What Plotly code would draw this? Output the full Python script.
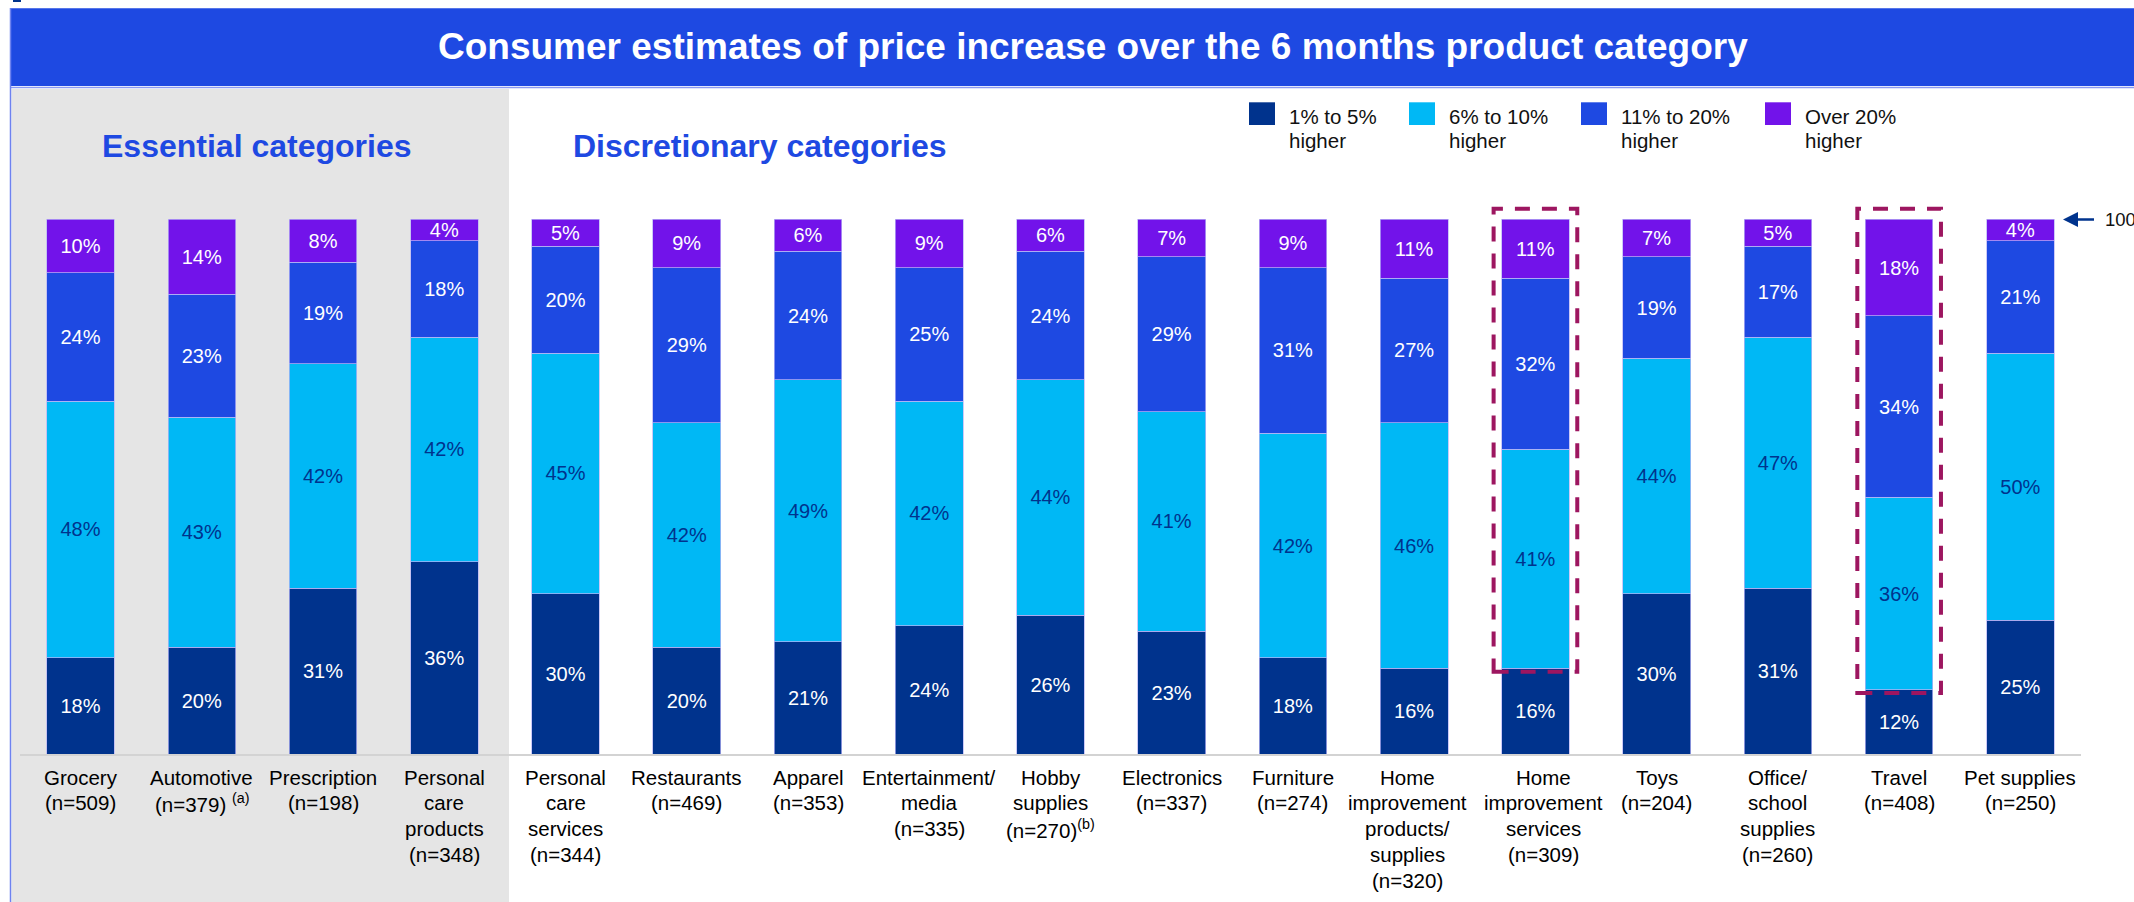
import plotly.graph_objects as go

# ---------------- data ----------------
categories = [
    "Grocery<br>(n=509)",
    "Automotive<br>(n=379) <sup>(a)</sup>",
    "Prescription<br>(n=198)",
    "Personal<br>care<br>products<br>(n=348)",
    "Personal<br>care<br>services<br>(n=344)",
    "Restaurants<br>(n=469)",
    "Apparel<br>(n=353)",
    "Entertainment/<br>media<br>(n=335)",
    "Hobby<br>supplies<br>(n=270)<sup>(b)</sup>",
    "Electronics<br>(n=337)",
    "Furniture<br>(n=274)",
    "Home<br>improvement<br>products/<br>supplies<br>(n=320)",
    "Home<br>improvement<br>services<br>(n=309)",
    "Toys<br>(n=204)",
    "Office/<br>school<br>supplies<br>(n=260)",
    "Travel<br>(n=408)",
    "Pet supplies<br>(n=250)",
]
pct_1_5 = [18, 20, 31, 36, 30, 20, 21, 24, 26, 23, 18, 16, 16, 30, 31, 12, 25]
pct_6_10 = [48, 43, 42, 42, 45, 42, 49, 42, 44, 41, 42, 46, 41, 44, 47, 36, 50]
pct_11_20 = [24, 23, 19, 18, 20, 29, 24, 25, 24, 29, 31, 27, 32, 19, 17, 34, 21]
pct_over_20 = [10, 14, 8, 4, 5, 9, 6, 9, 6, 7, 9, 11, 11, 7, 5, 18, 4]
series_names = ["1% to 5%", "6% to 10%", "11% to 20%", "Over 20%"]
highlighted = [12, 15]  # Home improvement services, Travel

title_text = "Consumer estimates of price increase over the 6 months product category"

# ---------------- style ----------------
FONT = "Arial, Liberation Sans, sans-serif"
C_NAVY = "#00338D"
C_CYAN = "#00B8F5"
C_BLUE = "#1E49E2"
C_PURPLE = "#7213EA"
colors = [C_NAVY, C_CYAN, C_BLUE, C_PURPLE]
text_colors = ["white", C_NAVY, "white", "white"]
label_xshift = [0, 0, 0, 0, 0, 0, 0, 0, 0, 0, 0, -7, 8, 0, 0, 0, 0]

W, H = 2134, 902
L, R, T, B = 20, 53, 198, 148
PW, PH = W - L - R, H - T - B


def fx(px):
    return (px - L) / PW


def fy(py):
    return (H - B - py) / PH


xs = list(range(len(categories)))
fig = go.Figure()
for name, vals, col, tcol in zip(series_names,
                                  [pct_1_5, pct_6_10, pct_11_20, pct_over_20],
                                  colors, text_colors):
    fig.add_trace(go.Bar(
        x=xs, y=vals, name=name,
        marker=dict(color=col, line=dict(color="rgba(185,180,245,0.9)", width=0.8)),
        text=[f"{v}%" for v in vals],
        textposition="inside", insidetextanchor="middle", textangle=0,
        constraintext="none", cliponaxis=False,
        textfont=dict(family=FONT, size=20, color=tcol),
        showlegend=False, hoverinfo="skip",
    ))

shapes = []
# grey "essential" panel
shapes.append(dict(type="rect", xref="paper", yref="paper",
                   x0=fx(11.5), x1=fx(509), y0=fy(89), y1=fy(903),
                   fillcolor="#E5E5E5", line=dict(width=0), layer="below"))
# title bar
shapes.append(dict(type="rect", xref="paper", yref="paper",
                   x0=fx(10.5), x1=fx(2136), y0=fy(86), y1=fy(8.3),
                   fillcolor=C_BLUE, line=dict(width=0), layer="above"))
shapes.append(dict(type="line", xref="paper", yref="paper",
                   x0=fx(10.5), x1=fx(2136), y0=fy(87.6), y1=fy(87.6),
                   line=dict(color="#8A9AF2", width=1.5), layer="above"))
# left border
shapes.append(dict(type="line", xref="paper", yref="paper",
                   x0=fx(10.5), x1=fx(10.5), y0=fy(8), y1=fy(903),
                   line=dict(color="#6E82F0", width=1.5), layer="above"))
shapes.append(dict(type="rect", xref="paper", yref="paper",
                   x0=fx(13), x1=fx(21), y0=fy(2), y1=fy(-1),
                   fillcolor=C_NAVY, line=dict(width=0), layer="above"))
# dashed highlight boxes
for i in highlighted:
    shapes.append(dict(type="rect", xref="x", yref="y",
                       x0=i - 0.345, x1=i + 0.345,
                       y0=pct_1_5[i] - 0.6, y1=102,
                       line=dict(color="#9D1660", width=4, dash="15px,12px"),
                       fillcolor="rgba(0,0,0,0)", layer="above"))
# legend squares
leg_sq_x = [1249, 1409, 1581, 1765]
for xpos, col in zip(leg_sq_x, colors):
    shapes.append(dict(type="rect", xref="paper", yref="paper",
                       x0=fx(xpos), x1=fx(xpos + 26), y0=fy(125), y1=fy(102.3),
                       fillcolor=col, line=dict(width=0), layer="above"))

annotations = []
annotations.append(dict(xref="paper", yref="paper", x=fx(1093), y=fy(47),
                        text=f"<b>{title_text}</b>", showarrow=False,
                        xanchor="center", yanchor="middle",
                        font=dict(family=FONT, size=37, color="white")))
annotations.append(dict(xref="paper", yref="paper", x=fx(256), y=fy(146),
                        text="<b>Essential categories</b>", showarrow=False,
                        xanchor="center", yanchor="middle",
                        font=dict(family=FONT, size=32, color=C_BLUE)))
annotations.append(dict(xref="paper", yref="paper", x=fx(571), y=fy(146),
                        text="<b>Discretionary categories</b>", showarrow=False,
                        xanchor="left", yanchor="middle",
                        font=dict(family=FONT, size=32, color=C_BLUE)))
for xpos, name in zip(leg_sq_x, series_names):
    annotations.append(dict(xref="paper", yref="paper", x=fx(xpos + 38), y=fy(116),
                            text=name, showarrow=False, xanchor="left", yanchor="middle",
                            font=dict(family=FONT, size=20.5, color="#111111")))
    annotations.append(dict(xref="paper", yref="paper", x=fx(xpos + 38), y=fy(140),
                            text="higher", showarrow=False, xanchor="left", yanchor="middle",
                            font=dict(family=FONT, size=20.5, color="#111111")))
# category labels below the axis (one annotation per line for tight spacing)
for i, (lab, sh) in enumerate(zip(categories, label_xshift)):
    for k, line in enumerate(lab.split("<br>")):
        annotations.append(dict(xref="x", yref="paper", x=i, y=fy(777 + k * 25.8),
                                xshift=sh, text=line, showarrow=False,
                                xanchor="center", yanchor="middle",
                                font=dict(family=FONT, size=20.5, color="#000000")))
# 100 marker
annotations.append(dict(xref="paper", yref="y", x=fx(2063), y=100,
                        ax=34, ay=0, axref="pixel", ayref="pixel",
                        text=" ", showarrow=True, arrowhead=2, arrowsize=1.2,
                        arrowwidth=2.5, arrowcolor=C_NAVY))
annotations.append(dict(xref="paper", yref="y", x=fx(2103), y=100,
                        text="100", showarrow=False, xanchor="left", yanchor="middle",
                        font=dict(family=FONT, size=18.5, color="#111111")))

fig.update_layout(
    width=W, height=H,
    margin=dict(l=L, r=R, t=T, b=B, autoexpand=False),
    barmode="stack", bargap=0.442,
    paper_bgcolor="white", plot_bgcolor="rgba(0,0,0,0)",
    shapes=shapes, annotations=annotations,
    showlegend=False,
    xaxis=dict(range=[-0.5, len(categories) - 0.5], tickmode="array",
               tickvals=xs, ticktext=["" for _ in categories],
               showgrid=False, zeroline=False,
               showline=True, linecolor="#D3D3D3", linewidth=1.5, ticks=""),
    yaxis=dict(range=[0, 104], visible=False, showgrid=False, zeroline=False),
    font=dict(family=FONT),
)

fig.write_html("out.html",
               config={"displayModeBar": False},
               post_script="document.body.style.margin='0';document.body.style.overflow='hidden';")
